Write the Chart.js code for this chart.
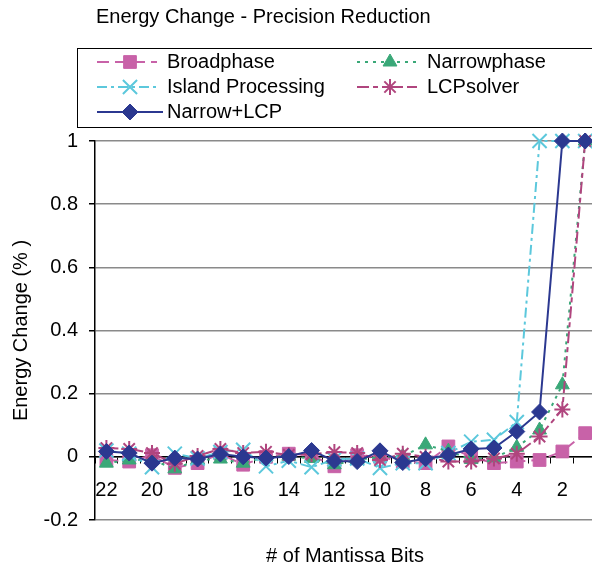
<!DOCTYPE html>
<html>
<head>
<meta charset="utf-8">
<script src="https://cdn.jsdelivr.net/npm/chart.js@4.4.1/dist/chart.umd.min.js"></script>
<style>
  html, body { margin: 0; padding: 0; background: #fff; overflow: hidden; }
  #wrap { position: relative; width: 604px; height: 567px; }
</style>
</head>
<body>
<div id="wrap"><canvas id="chart"></canvas></div>
<script>
// number of mantissa bits, left to right
const bits = [22, 21, 20, 19, 18, 17, 16, 15, 14, 13, 12, 11, 10, 9, 8, 7, 6, 5, 4, 3, 2, 1];
const xTickLabels = [22, 20, 18, 16, 14, 12, 10, 8, 6, 4, 2];

const broadphase  = [-0.01, -0.015, 0.005, -0.035, -0.02, 0.01, -0.025, 0.0, 0.01, 0.005, -0.03, 0.005, 0.0, -0.015, -0.02, 0.033, 0.0, -0.02, -0.015, -0.01, 0.017, 0.075];
const narrowphase = [-0.02, -0.01, -0.01, -0.038, -0.01, -0.007, -0.02, 0.0, 0.002, -0.005, -0.025, -0.01, 0.0, 0.002, 0.038, 0.018, -0.008, -0.003, 0.03, 0.085, 0.228, 1.0];
const islandProc  = [0.02, 0.01, -0.033, 0.01, -0.005, 0.015, 0.022, -0.03, -0.012, -0.033, -0.008, -0.005, -0.035, -0.02, -0.02, 0.012, 0.048, 0.054, 0.11, 1.0, 1.0, 1.0];
const lcpSolver   = [0.028, 0.025, 0.012, -0.022, 0.003, 0.025, 0.012, 0.016, 0.006, 0.008, 0.015, 0.012, -0.01, 0.01, 0.0, -0.015, -0.015, -0.005, 0.01, 0.064, 0.15, 1.0];
const narrowLcp   = [0.017, 0.012, -0.02, -0.004, -0.007, 0.009, 0.0, -0.004, 0.001, 0.02, -0.013, -0.015, 0.019, -0.018, -0.006, 0.006, 0.025, 0.028, 0.08, 0.142, 1.0, 1.0];

const FONT = "'Liberation Sans', Arial, sans-serif";
Chart.defaults.font.family = FONT;
Chart.defaults.font.size = 20;
Chart.defaults.color = '#000';

function series(label, values, color, dash, pointStyle, radius, order) {
  const thin = pointStyle === 'crossRot' || pointStyle === 'star';
  return {
    label,
    data: bits.map((b, i) => ({ x: b, y: values[i] })),
    borderColor: color,
    backgroundColor: color,
    pointBackgroundColor: color,
    pointBorderColor: color,
    borderWidth: 2,
    borderDash: dash,
    tension: 0,
    pointStyle,
    pointRadius: radius,
    pointHoverRadius: radius,
    pointBorderWidth: thin ? 2 : 1,
    clip: false,
    order
  };
}

// title, axis title and the boxed legend
const decor = {
  id: 'decor',
  afterDraw(chart) {
    const c = chart.ctx;
    c.save();
    c.fillStyle = '#000';
    c.font = '20px ' + FONT;
    c.textBaseline = 'middle';
    c.textAlign = 'left';
    c.fillText('Energy Change - Precision Reduction', 96, 17);
    c.textAlign = 'center';
    c.fillText('# of Mantissa Bits', 345, 556);

    c.strokeStyle = '#000';
    c.lineWidth = 1;
    c.strokeRect(77.5, 48.5, 600, 79);

    const slots = [[97, 62], [357, 62], [97, 87], [357, 87], [97, 112]];
    chart.data.datasets.forEach((ds, k) => {
      const [x, y] = slots[k];
      const len = ds.borderDash.length ? 60 : 66;
      c.strokeStyle = ds.borderColor;
      c.fillStyle = ds.borderColor;
      c.lineWidth = 2;
      c.setLineDash(ds.borderDash);
      c.beginPath();
      c.moveTo(x, y);
      c.lineTo(x + len, y);
      c.stroke();
      c.setLineDash([]);
      c.lineWidth = ds.pointBorderWidth;
      Chart.helpers.drawPoint(c, { pointStyle: ds.pointStyle, radius: ds.pointRadius, rotation: 0, borderWidth: ds.pointBorderWidth }, x + 33, y);
      c.fillStyle = '#000';
      c.textAlign = 'left';
      c.fillText(ds.label, x + 70, y);
    });
    c.restore();
  }
};

const ctx = document.getElementById('chart');
new Chart(ctx, {
  type: 'line',
  data: {
    datasets: [
      series('Broadphase', broadphase, '#c862a8', [12, 6], 'rect', 9, 5),
      series('Narrowphase', narrowphase, '#3aa878', [3, 5], 'triangle', 8, 4),
      series('Island Processing', islandProc, '#5cc8dc', [10, 4, 3, 4], 'crossRot', 10, 3),
      series('LCPsolver', lcpSolver, '#b0457e', [12, 4, 5, 4], 'star', 8, 2),
      series('Narrow+LCP', narrowLcp, '#2b3890', [], 'rectRot', 8, 1)
    ]
  },
  options: {
    responsive: true,
    maintainAspectRatio: false,
    animation: false,
    layout: { padding: { top: 141, bottom: 47, left: 0, right: 0 } },
    plugins: {
      legend: { display: false },
      title: { display: false },
      tooltip: { enabled: false }
    },
    scales: {
      x: {
        type: 'linear',
        reverse: true,
        min: 0.7,
        max: 22.5,
        position: { y: 0 },
        afterBuildTicks(scale) {
          const t = [];
          for (let v = 22.5; v > 1; v -= 0.5) t.push({ value: v });
          scale.ticks = t;
        },
        ticks: {
          autoSkip: false,
          maxRotation: 0,
          padding: 16,
          callback: v => xTickLabels.includes(v) ? String(v) : ''
        },
        grid: {
          drawOnChartArea: false,
          tickLength: 6,
          tickColor: c => Number.isInteger(c.tick.value) ? 'rgba(0,0,0,0)' : '#000'
        },
        border: { color: '#000', width: 1.5 }
      },
      y: {
        min: -0.2,
        max: 1,
        afterFit(scale) { scale.width = 95; },
        ticks: {
          stepSize: 0.2,
          padding: 11,
          callback: v => String(Math.round(v * 10) / 10)
        },
        grid: { color: '#8a8a8a', lineWidth: 1.5, tickLength: 6, tickColor: '#000' },
        border: { color: '#000', width: 1.5 },
        title: { display: true, text: 'Energy Change (% )', padding: { top: 9, bottom: 0 } }
      }
    }
  },
  plugins: [decor]
});
</script>
</body>
</html>
